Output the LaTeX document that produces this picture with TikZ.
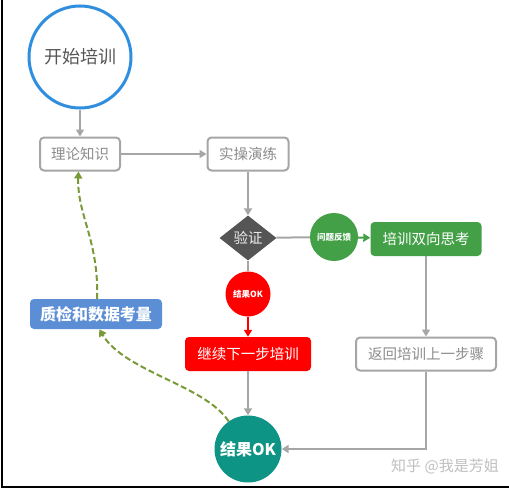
\documentclass[tikz,border=0pt]{standalone}
\usepackage{fontspec}
\newfontfamily\cjk{Noto Sans CJK SC}
\usepackage{xcolor}
\definecolor{lgray}{HTML}{A6A6A6}
\definecolor{tgray}{HTML}{8C8C8C}
\definecolor{dgray}{HTML}{555555}
\definecolor{sblue}{HTML}{2F8FDE}
\definecolor{qblue}{HTML}{5B8ED5}
\definecolor{fgreen}{HTML}{43A047}
\definecolor{okteal}{HTML}{0E9484}
\definecolor{dgreen}{HTML}{7A9A3A}
\usetikzlibrary{arrows.meta,shapes.geometric}
\newcommand{\fs}[1]{\cjk\fontsize{#1}{#1}\selectfont}

\begin{document}
\begin{tikzpicture}[x=1pt,y=-1pt,
  tip/.style={-{Triangle[width=8pt,length=7pt]}},
  gline/.style={draw=lgray,line width=2pt},
  garrow/.style={gline,tip},
  gbox/.style={draw=lgray,line width=2pt,rounded corners=4pt,fill=white,text=tgray,minimum height=33pt,font=\fs{14.5}},
  fbox/.style={rounded corners=4pt,text=white,minimum height=34pt,font=\fs{14.5}},
  back/.style={dgreen,line width=2pt,dash pattern=on 6pt off 3pt,tip}]
\useasboundingbox (0,0) rectangle (509,490);
\draw[black,line width=1.5pt] (2,0) -- (2,487) -- (509,487);
\node[circle,draw=sblue,line width=3pt,minimum size=102pt,text=dgray,font=\fs{18}] (start) at (80,57) {开始培训};
\node[gbox,minimum width=80pt] (theory) at (80,154) {理论知识};
\node[gbox,minimum width=81pt] (practice) at (248,154) {实操演练};
\node[diamond,fill=dgray,aspect=1.27,inner sep=0pt,minimum width=57pt,minimum height=45pt,text=white!85!gray,font=\fs{14.5}] (check) at (248,238) {验证};
\node[circle,fill=fgreen,minimum size=48pt,inner sep=0pt,text=white,font=\fs{8.5}\bfseries] (feedback) at (334,237) {问题反馈};
\node[fbox,fill=fgreen,minimum width=111pt] (rethink) at (426,239) {培训双向思考};
\node[gbox,minimum width=140pt] (goback) at (426,354) {返回培训上一步骤};
\node[circle,fill=red,minimum size=45pt,inner sep=0pt,text=white,font=\fs{8.5}\bfseries] (okmini) at (248,294) {结果OK};
\node[fbox,fill=red,minimum width=126pt] (next) at (248,354) {继续下一步培训};
\node[circle,fill=okteal,minimum size=67pt,inner sep=0pt,text=white,font=\fs{16}\bfseries] (ok) at (248,449) {结果OK};
\node[fbox,fill=qblue,minimum width=132pt,minimum height=30pt,font=\fs{16}\bfseries] (qc) at (96,314) {质检和数据考量};
\node[text=black!25,font=\fs{15}] (mark) at (445,466) {知乎 @我是芳姐};
\draw[garrow] (start) -- (theory);
\draw[garrow] (theory) -- (practice);
\draw[garrow] (practice) -- (check);
\draw[gline] (check) -- (feedback);
\draw[fgreen,line width=2pt,tip] (feedback) -- (rethink);
\draw[garrow] (rethink) -- (goback);
\draw[garrow] (goback) |- (ok);
\draw[gline] (check) -- (okmini);
\draw[red,line width=2pt,tip] (okmini) -- (next);
\draw[garrow] (next) -- (ok);
\draw[back] (ok.125) .. controls (205,385) and (125,372) .. (qc.-78);
\draw[back] (qc.86) .. controls (99,240) and (77,215) .. (theory.-95);
\end{tikzpicture}
\end{document}
